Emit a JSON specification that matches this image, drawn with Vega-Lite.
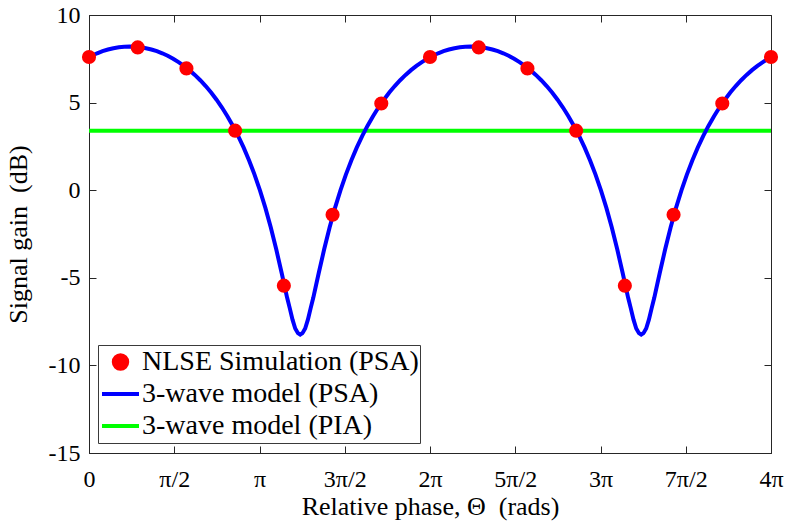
{
  "$schema": "https://vega.github.io/schema/vega-lite/v6.json",
  "width": 682,
  "height": 438,
  "autosize": {"type": "none"},
  "padding": {"left": 89, "top": 15, "right": 16, "bottom": 75},
  "background": "white",
  "config": {
    "font": "Liberation Serif",
    "view": {"stroke": "#262626", "strokeWidth": 1},
    "axis": {
      "labelFont": "Liberation Serif", "labelFontSize": 24, "labelColor": "black",
      "titleFont": "Liberation Serif", "titleFontSize": 26, "titleFontWeight": "normal", "titleColor": "black",
      "domainColor": "#262626", "tickColor": "#262626", "gridColor": "#e3e3e3", "gridWidth": 1,
      "tickSize": -7, "labelPadding": 16
    },
    "legend": {
      "labelFont": "Liberation Serif", "labelFontSize": 28, "labelColor": "black"
    }
  },
  "datasets": {
    "curve": [
      {"x":0,"y":7.592,"s":"PSA"},{"x":0.05,"y":7.672,"s":"PSA"},{"x":0.15,"y":7.815,"s":"PSA"},{"x":0.25,"y":7.934,"s":"PSA"},{"x":0.35,"y":8.031,"s":"PSA"},{"x":0.45,"y":8.106,"s":"PSA"},{"x":0.55,"y":8.160,"s":"PSA"},{"x":0.65,"y":8.191,"s":"PSA"},{"x":0.75,"y":8.202,"s":"PSA"},
      {"x":0.85,"y":8.191,"s":"PSA"},{"x":0.95,"y":8.160,"s":"PSA"},{"x":1.05,"y":8.106,"s":"PSA"},{"x":1.15,"y":8.031,"s":"PSA"},{"x":1.25,"y":7.934,"s":"PSA"},{"x":1.35,"y":7.815,"s":"PSA"},{"x":1.45,"y":7.672,"s":"PSA"},{"x":1.55,"y":7.505,"s":"PSA"},{"x":1.65,"y":7.314,"s":"PSA"},{"x":1.75,"y":7.097,"s":"PSA"},{"x":1.85,"y":6.853,"s":"PSA"},{"x":1.95,"y":6.581,"s":"PSA"},{"x":2.05,"y":6.278,"s":"PSA"},{"x":2.15,"y":5.943,"s":"PSA"},{"x":2.25,"y":5.573,"s":"PSA"},{"x":2.35,"y":5.166,"s":"PSA"},{"x":2.45,"y":4.718,"s":"PSA"},{"x":2.55,"y":4.226,"s":"PSA"},{"x":2.65,"y":3.684,"s":"PSA"},{"x":2.75,"y":3.087,"s":"PSA"},{"x":2.85,"y":2.429,"s":"PSA"},{"x":2.95,"y":1.700,"s":"PSA"},{"x":3.05,"y":0.892,"s":"PSA"},{"x":3.15,"y":-0.008,"s":"PSA"},{"x":3.25,"y":-1.011,"s":"PSA"},{"x":3.35,"y":-2.131,"s":"PSA"},{"x":3.45,"y":-3.373,"s":"PSA"},{"x":3.55,"y":-4.729,"s":"PSA"},{"x":3.60,"y":-5.427,"s":"PSA"},{"x":3.65,"y":-6.130,"s":"PSA"},{"x":3.70,"y":-6.745,"s":"PSA"},{"x":3.75,"y":-7.392,"s":"PSA"},{"x":3.80,"y":-7.894,"s":"PSA"},{"x":3.85,"y":-8.159,"s":"PSA"},{"x":3.8916,"y":-8.239,"s":"PSA"},
      {"x":3.9332,"y":-8.159,"s":"PSA"},{"x":3.9832,"y":-7.894,"s":"PSA"},{"x":4.0332,"y":-7.392,"s":"PSA"},{"x":4.0832,"y":-6.745,"s":"PSA"},{"x":4.1332,"y":-6.130,"s":"PSA"},{"x":4.1832,"y":-5.427,"s":"PSA"},{"x":4.2332,"y":-4.729,"s":"PSA"},{"x":4.3332,"y":-3.373,"s":"PSA"},{"x":4.4332,"y":-2.131,"s":"PSA"},{"x":4.5332,"y":-1.011,"s":"PSA"},{"x":4.6332,"y":-0.008,"s":"PSA"},{"x":4.7332,"y":0.892,"s":"PSA"},{"x":4.8332,"y":1.700,"s":"PSA"},{"x":4.9332,"y":2.429,"s":"PSA"},{"x":5.0332,"y":3.087,"s":"PSA"},{"x":5.1332,"y":3.684,"s":"PSA"},{"x":5.2332,"y":4.226,"s":"PSA"},{"x":5.3332,"y":4.718,"s":"PSA"},{"x":5.4332,"y":5.166,"s":"PSA"},{"x":5.5332,"y":5.573,"s":"PSA"},{"x":5.6332,"y":5.943,"s":"PSA"},{"x":5.7332,"y":6.278,"s":"PSA"},{"x":5.8332,"y":6.581,"s":"PSA"},{"x":5.9332,"y":6.853,"s":"PSA"},{"x":6.0332,"y":7.097,"s":"PSA"},{"x":6.1332,"y":7.314,"s":"PSA"},{"x":6.2332,"y":7.505,"s":"PSA"},{"x":6.2832,"y":7.592,"s":"PSA"},
      {"x":6.3332,"y":7.672,"s":"PSA"},{"x":6.4332,"y":7.815,"s":"PSA"},{"x":6.5332,"y":7.934,"s":"PSA"},{"x":6.6332,"y":8.031,"s":"PSA"},{"x":6.7332,"y":8.106,"s":"PSA"},{"x":6.8332,"y":8.160,"s":"PSA"},{"x":6.9332,"y":8.191,"s":"PSA"},{"x":7.0332,"y":8.202,"s":"PSA"},{"x":7.1332,"y":8.191,"s":"PSA"},{"x":7.2332,"y":8.160,"s":"PSA"},{"x":7.3332,"y":8.106,"s":"PSA"},{"x":7.4332,"y":8.031,"s":"PSA"},{"x":7.5332,"y":7.934,"s":"PSA"},{"x":7.6332,"y":7.815,"s":"PSA"},{"x":7.7332,"y":7.672,"s":"PSA"},{"x":7.8332,"y":7.505,"s":"PSA"},{"x":7.9332,"y":7.314,"s":"PSA"},{"x":8.0332,"y":7.097,"s":"PSA"},{"x":8.1332,"y":6.853,"s":"PSA"},{"x":8.2332,"y":6.581,"s":"PSA"},{"x":8.3332,"y":6.278,"s":"PSA"},{"x":8.4332,"y":5.943,"s":"PSA"},{"x":8.5332,"y":5.573,"s":"PSA"},{"x":8.6332,"y":5.166,"s":"PSA"},{"x":8.7332,"y":4.718,"s":"PSA"},{"x":8.8332,"y":4.226,"s":"PSA"},{"x":8.9332,"y":3.684,"s":"PSA"},{"x":9.0332,"y":3.087,"s":"PSA"},{"x":9.1332,"y":2.429,"s":"PSA"},{"x":9.2332,"y":1.700,"s":"PSA"},{"x":9.3332,"y":0.892,"s":"PSA"},{"x":9.4332,"y":-0.008,"s":"PSA"},{"x":9.5332,"y":-1.011,"s":"PSA"},{"x":9.6332,"y":-2.131,"s":"PSA"},{"x":9.7332,"y":-3.373,"s":"PSA"},{"x":9.8332,"y":-4.729,"s":"PSA"},{"x":9.8832,"y":-5.427,"s":"PSA"},{"x":9.9332,"y":-6.130,"s":"PSA"},{"x":9.9832,"y":-6.745,"s":"PSA"},{"x":10.0332,"y":-7.392,"s":"PSA"},{"x":10.0832,"y":-7.894,"s":"PSA"},{"x":10.1332,"y":-8.159,"s":"PSA"},{"x":10.1748,"y":-8.239,"s":"PSA"},
      {"x":10.2164,"y":-8.159,"s":"PSA"},{"x":10.2664,"y":-7.894,"s":"PSA"},{"x":10.3164,"y":-7.392,"s":"PSA"},{"x":10.3664,"y":-6.745,"s":"PSA"},{"x":10.4164,"y":-6.130,"s":"PSA"},{"x":10.4664,"y":-5.427,"s":"PSA"},{"x":10.5164,"y":-4.729,"s":"PSA"},{"x":10.6164,"y":-3.373,"s":"PSA"},{"x":10.7164,"y":-2.131,"s":"PSA"},{"x":10.8164,"y":-1.011,"s":"PSA"},{"x":10.9164,"y":-0.008,"s":"PSA"},{"x":11.0164,"y":0.892,"s":"PSA"},{"x":11.1164,"y":1.700,"s":"PSA"},{"x":11.2164,"y":2.429,"s":"PSA"},{"x":11.3164,"y":3.087,"s":"PSA"},{"x":11.4164,"y":3.684,"s":"PSA"},{"x":11.5164,"y":4.226,"s":"PSA"},{"x":11.6164,"y":4.718,"s":"PSA"},{"x":11.7164,"y":5.166,"s":"PSA"},{"x":11.8164,"y":5.573,"s":"PSA"},{"x":11.9164,"y":5.943,"s":"PSA"},{"x":12.0164,"y":6.278,"s":"PSA"},{"x":12.1164,"y":6.581,"s":"PSA"},{"x":12.2164,"y":6.853,"s":"PSA"},{"x":12.3164,"y":7.097,"s":"PSA"},{"x":12.4164,"y":7.314,"s":"PSA"},{"x":12.5164,"y":7.505,"s":"PSA"},{"x":12.5664,"y":7.592,"s":"PSA"}
    ],
    "pia": [
      {"x":0,"y":3.4,"s":"PIA"},{"x":12.5664,"y":3.4,"s":"PIA"}
    ],
    "sim": [
      {"x":0,"y":7.6,"s":"NLSE"},{"x":0.8976,"y":8.15,"s":"NLSE"},{"x":1.7952,"y":6.95,"s":"NLSE"},{"x":2.6928,"y":3.4,"s":"NLSE"},{"x":3.5904,"y":-5.45,"s":"NLSE"},{"x":4.4880,"y":-1.4,"s":"NLSE"},{"x":5.3856,"y":4.95,"s":"NLSE"},
      {"x":6.2832,"y":7.6,"s":"NLSE"},{"x":7.1808,"y":8.15,"s":"NLSE"},{"x":8.0784,"y":6.95,"s":"NLSE"},{"x":8.9760,"y":3.4,"s":"NLSE"},{"x":9.8736,"y":-5.45,"s":"NLSE"},{"x":10.7712,"y":-1.4,"s":"NLSE"},{"x":11.6688,"y":4.95,"s":"NLSE"},{"x":12.5664,"y":7.6,"s":"NLSE"}
    ]
  },
  "resolve": {"axis": {"x": "independent", "y": "independent"}},
  "layer": [
    {
      "data": {"name": "pia"},
      "mark": {"type": "line", "strokeWidth": 4, "clip": true},
      "encoding": {
        "x": {"field": "x", "type": "quantitative",
              "scale": {"domain": [0, 12.5664], "nice": false, "zero": false},
              "axis": {"orient": "top", "labels": false, "title": null, "grid": false, "domain": false,
                       "values": [0, 1.5708, 3.1416, 4.7124, 6.2832, 7.854, 9.4248, 10.9956, 12.5664]}},
        "y": {"field": "y", "type": "quantitative",
              "scale": {"domain": [-15, 10], "nice": false, "zero": false},
              "axis": {"orient": "right", "labels": false, "title": null, "grid": false, "domain": false,
                       "values": [-15, -10, -5, 0, 5, 10]}},
        "color": {"field": "s", "type": "nominal",
                  "scale": {"domain": ["NLSE", "PSA", "PIA"], "range": ["#ff0000", "#0000ff", "#00ff00"]},
                  "legend": {
                    "orient": "none", "legendX": 9, "legendY": 330, "title": null,
                    "strokeColor": "#3a3a3a", "fillColor": "white", "padding": 1,
                    "rowPadding": 0, "clipHeight": 32, "labelOffset": 1, "symbolOffset": 1, "symbolType": "stroke", "symbolSize": 900,
                    "symbolStrokeWidth": 4, "symbolOpacity": 1, "labelLimit": 400,
                    "labelFont": "Liberation Serif", "labelFontSize": 28,
                    "labelExpr": "datum.value === 'NLSE' ? 'NLSE Simulation (PSA)' : datum.value === 'PSA' ? '3-wave model (PSA)' : '3-wave model (PIA)'",
                    "encode": {"symbols": {"update": {
                      "shape": {"signal": "datum.value === 'NLSE' ? 'circle' : 'stroke'"},
                      "size": {"signal": "datum.value === 'NLSE' ? 180 : 1369"},
                      "fill": {"signal": "datum.value === 'NLSE' ? '#ff0000' : 'transparent'"},
                      "stroke": {"signal": "datum.value === 'NLSE' ? 'transparent' : datum.value === 'PSA' ? '#0000ff' : '#00ff00'"},
                      "strokeWidth": {"value": 4},
                      "opacity": {"value": 1}
                    }}}
                  }}
      }
    },
    {
      "data": {"name": "curve"},
      "mark": {"type": "line", "strokeWidth": 4, "clip": true},
      "encoding": {
        "x": {"field": "x", "type": "quantitative",
              "axis": {"orient": "bottom", "title": "Relative phase, Θ\u00a0 (rads)", "titlePadding": 2,
                       "titleFont": "Liberation Serif", "labelFont": "Liberation Serif",
                       "labelPadding": 21,
                       "values": [0, 1.5708, 3.1416, 4.7124, 6.2832, 7.854, 9.4248, 10.9956, 12.5664],
                       "labelExpr": "['0','π/2','π','3π/2','2π','5π/2','3π','7π/2','4π'][round(datum.value/1.5708)]",
                       "labelFlush": false}},
        "y": {"field": "y", "type": "quantitative",
              "axis": {"orient": "left", "title": "Signal gain\u00a0 (dB)", "titlePadding": 17,
                       "titleFont": "Liberation Serif", "labelFont": "Liberation Serif",
                       "values": [-15, -10, -5, 0, 5, 10],
                       "labelExpr": "'' + datum.value"}},
        "color": {"field": "s", "type": "nominal"}
      }
    },
    {
      "data": {"name": "sim"},
      "mark": {"type": "point", "filled": true, "opacity": 1, "size": 200, "shape": "circle"},
      "encoding": {
        "x": {"field": "x", "type": "quantitative", "axis": null},
        "y": {"field": "y", "type": "quantitative", "axis": null},
        "color": {"field": "s", "type": "nominal"}
      }
    }
  ]
}
